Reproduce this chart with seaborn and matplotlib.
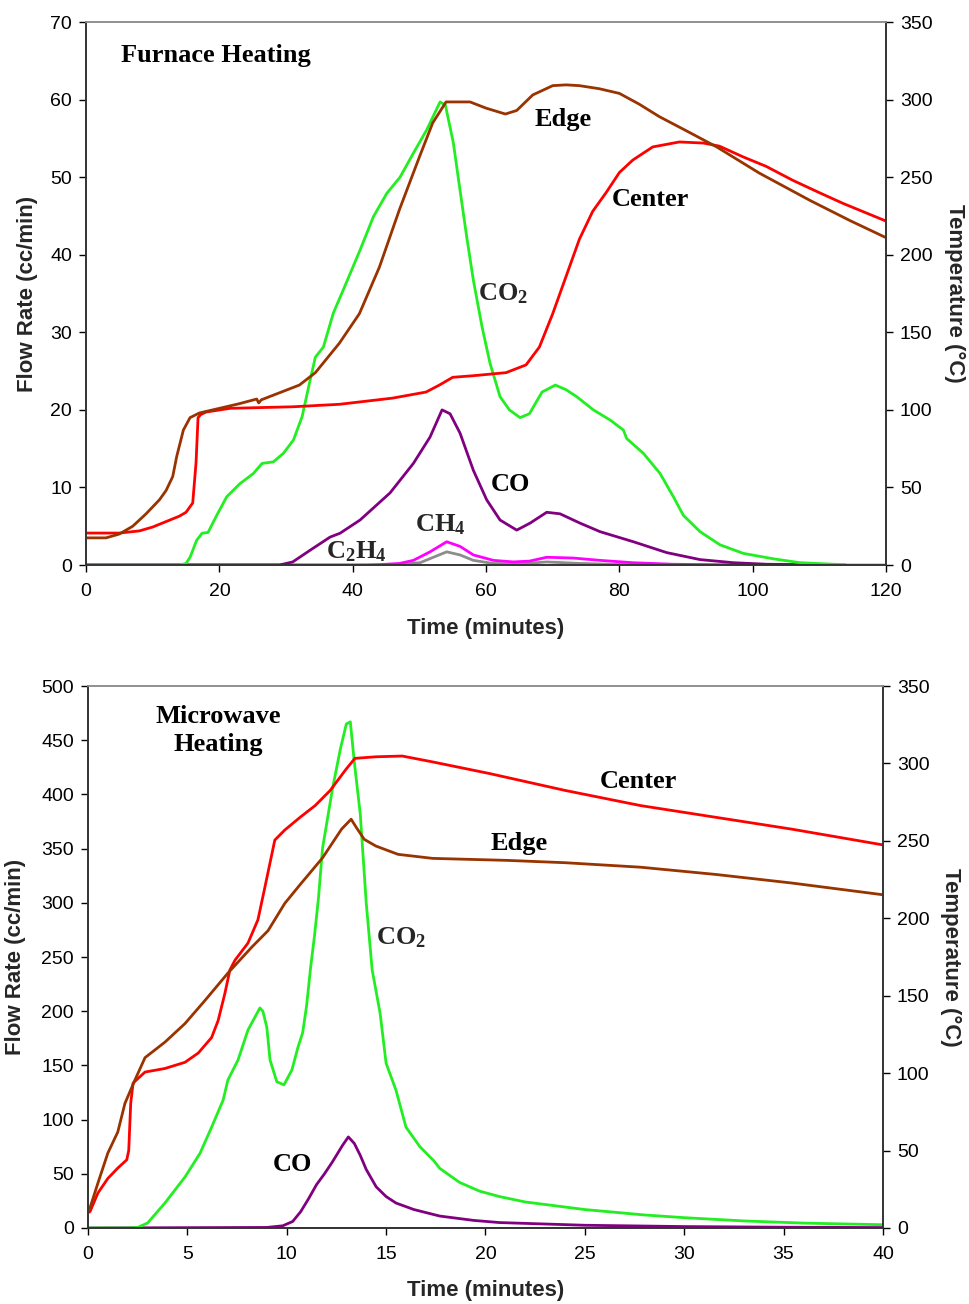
import numpy as np
import pandas as pd
import matplotlib
matplotlib.use("Agg")
import matplotlib.pyplot as plt
import seaborn as sns

# ---------------- Furnace heating (top panel) ----------------
# temperatures in degC (right axis), gas flows in cc/min (left axis)
fur_edge_t = [0, 3, 5, 7, 9, 11, 12, 13, 13.6, 14.6, 15.6, 17, 20, 23, 25.6, 25.9, 26.3, 29, 32, 34.4,
              38, 41, 44, 47, 50, 52, 54, 56, 57.6, 60, 62.9, 64.6, 67, 70, 72, 74, 77, 80, 83, 86,
              90, 94.6, 101, 108.6, 114.6, 120]
fur_edge_temp = [17.5, 17.5, 20, 25, 33, 42, 48, 57, 70, 87, 95, 98, 101, 104, 107, 104.5, 106.5, 111, 116, 124,
                 143, 162, 192, 229, 263, 285, 298.5, 298.5, 298.5, 294.5, 290.7, 293, 303, 309, 309.5, 309, 307, 304, 297, 289,
                 280, 269.5, 252.6, 235, 222, 211]

fur_center_t = [0, 5, 8, 10, 12, 14, 15, 16, 16.5, 16.8, 17.2, 18, 21.6, 31, 38, 46, 51, 53, 55, 58,
                63, 66, 68, 70, 72, 74, 76, 78, 80, 82, 85, 89, 92.6, 95, 98.6, 102, 106, 110, 113.6, 120]
fur_center_temp = [20.6, 20.6, 22, 24.5, 28, 31.5, 34, 40, 66, 95, 97, 98.6, 101, 102, 103.6, 107.6, 111.5, 116, 121, 122,
                   124, 129, 140.5, 162, 186, 210, 228, 240, 253, 261, 269.5, 272.7, 272, 270, 263, 257, 248, 240, 233, 221.7]

fur_co2_t = [0, 14, 15, 15.6, 16.6, 17.4, 18.3, 19.6, 21.1, 23.1, 25.1, 26.4, 28.1, 29.6, 31.1, 32.4, 33.6, 34.4,
             35.6, 37.1, 38.6, 41.1, 43.1, 45.1, 47.1, 49.1, 51.1, 53.1, 53.9, 55.1, 56.1, 57.1, 58.1, 59.4, 60.6,
             62.1, 63.5, 65.1, 66.5, 68.4, 70.4, 72, 73.6, 76.1, 78.6, 80.6, 81.1, 83.6, 86.1, 88.1, 89.6, 92.1,
             95.1, 98.6, 103.1, 107.1, 112.1, 113.9]
fur_co2 = [0, 0, 0.2, 1, 3.2, 4.1, 4.2, 6.4, 8.8, 10.5, 11.8, 13.1, 13.3, 14.4, 16.1, 19.1, 23.8, 26.8,
           28.1, 32.5, 35.5, 40.6, 44.9, 47.9, 50, 53.1, 56.1, 59.7, 59.3, 54.4, 48.3, 42.3, 36.7, 30.7, 26,
           21.7, 20, 19, 19.5, 22.3, 23.2, 22.6, 21.7, 20, 18.7, 17.4, 16.3, 14.4, 11.8, 8.8, 6.4, 4.3,
           2.6, 1.5, 0.8, 0.3, 0.1, 0.05]

fur_co_t = [0, 29, 31, 33.6, 36.6, 38.1, 41.1, 45.6, 49.1, 51.6, 53.4, 54.6, 56.1, 58.1, 60.1, 62.1, 64.6, 66.6,
            69.1, 71.1, 74.1, 77.1, 82.1, 87.1, 92.1, 97.1, 102.1, 110]
fur_co = [0, 0, 0.4, 1.9, 3.6, 4.1, 5.8, 9.3, 13.1, 16.5, 20, 19.5, 17, 12.2, 8.4, 5.8, 4.5, 5.4,
          6.8, 6.6, 5.4, 4.3, 3.0, 1.6, 0.7, 0.3, 0.1, 0.02]

fur_ch4_t = [0, 42, 44, 47, 49.1, 51.6, 54.1, 56.1, 58.1, 61.1, 64.1, 66.5, 69.1, 73.1, 77.1, 82, 88, 95, 113]
fur_ch4 = [0, 0, 0.05, 0.2, 0.6, 1.7, 3.0, 2.4, 1.3, 0.6, 0.4, 0.5, 1.0, 0.9, 0.6, 0.3, 0.1, 0.03, 0]

fur_c2h4_t = [0, 46, 50.1, 52.1, 54.1, 56.1, 58.1, 61.1, 65, 69.1, 74.1, 80, 90, 120]
fur_c2h4 = [0, 0, 0.3, 1.0, 1.7, 1.3, 0.6, 0.2, 0.15, 0.4, 0.2, 0.08, 0, 0]

# ---------------- Microwave heating (bottom panel) ----------------
mw_center_t = [0, 0.1, 0.5, 1.0, 1.5, 1.95, 2.05, 2.15, 2.27, 2.87, 3.87, 4.88, 5.55, 6.22, 6.55, 6.89, 7.14,
               7.4, 8.05, 8.55, 8.9, 9.4, 9.9, 10.67, 11.43, 12.19, 12.95, 13.43, 14.48, 15.81, 17.34, 20.2,
               24.0, 27.8, 31.6, 35.4, 40]
mw_center_temp = [10, 10.5, 22.6, 32, 38.7, 44, 50, 80.5, 93.6, 100.7, 103, 107, 113, 123, 134, 151.6, 166.6,
                  173, 184, 199, 220, 250.5, 257, 265.2, 272.8, 282.6, 295.7, 303.3, 304.3, 304.8, 301, 293.5,
                  282.6, 272.8, 265.2, 257.6, 247.4]

mw_edge_t = [0, 0.1, 0.5, 1.0, 1.5, 1.86, 2.36, 2.87, 3.87, 4.88, 5.89, 7.04, 8.25, 9.06, 9.9, 10.67, 11.8,
             12.76, 13.24, 13.5, 13.9, 14.48, 15.6, 17.34, 21.1, 24.0, 27.8, 31.6, 35.4, 40]
mw_edge_temp = [12, 13, 29, 48.4, 62, 80.5, 95.5, 110, 120, 132, 147, 164.6, 181.5, 192, 209.6, 221.7, 239,
                257.6, 264, 258.7, 251, 246.7, 241.3, 238.7, 237.4, 235.9, 233, 228.3, 222.8, 215.2]

mw_co2_t = [0, 2.0, 2.5, 3.0, 3.87, 4.88, 5.64, 6.22, 6.8, 7.04, 7.55, 8.05, 8.65, 8.8, 9.0, 9.16, 9.5, 9.86,
            10.26, 10.57, 10.8, 11.0, 11.2, 11.4, 11.6, 11.8, 12.3, 12.7, 13.0, 13.2, 13.4, 13.7, 14.0, 14.3,
            14.7, 15.0, 15.5, 16.0, 16.7, 17.4, 17.7, 18.7, 19.7, 20.7, 22, 25, 28, 30, 33, 36, 40]
mw_co2 = [0, 0, 0.5, 4.6, 23, 47, 69, 93, 118, 136.5, 155, 182.6, 203, 200, 185, 155, 135, 132,
          145.8, 167, 180, 205, 240, 270, 305, 350, 405, 442, 465, 467, 430, 382, 300, 238,
          198, 152, 127, 93, 75, 62, 55, 42, 34, 29, 24, 17, 12, 9.5, 6.5, 4.5, 3]

mw_co_t = [0, 9.0, 9.8, 10.3, 10.7, 11.1, 11.5, 11.9, 12.3, 12.8, 13.1, 13.4, 13.7, 14.0, 14.5, 15.0, 15.5,
           16.4, 17.7, 19.4, 20.7, 25, 30, 35, 40]
mw_co = [0, 0.5, 2, 6, 15, 27, 40, 50, 61, 76, 84, 78, 67, 54, 38, 29, 23,
         17, 11, 7, 5, 2.5, 1.3, 0.7, 0.4]

mw_ch4_t = [0, 40]
mw_ch4 = [0, 0]

C_RED = "#ff0000"
C_BROWN = "#993300"
C_GREEN = "#22ee22"
C_PURPLE = "#800080"
C_MAGENTA = "#ff00ff"
C_GREY = "#8c8c8c"

sns.set_style("ticks")
plt.rcParams["font.family"] = ["Liberation Sans", "DejaVu Sans"]
plt.rcParams["mathtext.fontset"] = "custom"
plt.rcParams["mathtext.rm"] = "Liberation Serif:bold"
plt.rcParams["mathtext.bf"] = "Liberation Serif:bold"
plt.rcParams["mathtext.it"] = "Liberation Serif:bold"

LW = 2.0
TICK_FS = 14
LABEL_FS = 16
NOTE_FS = 19
serif = dict(family="Liberation Serif", weight="bold", fontsize=NOTE_FS, color="black")


def draw(ax, t, y, color):
    df = pd.DataFrame({"t": t, "y": y})
    sns.lineplot(data=df, x="t", y="y", ax=ax, color=color, lw=LW, sort=False, estimator=None)


def style_axes(ax, axr, xmax, xstep, ymax, ystep, ylab_x, yrlab_x):
    ax.set_xlim(0, xmax)
    ax.set_ylim(0, ymax)
    axr.set_ylim(0, 350)
    ax.set_xticks(np.arange(0, xmax + 1, xstep))
    ax.set_yticks(np.arange(0, ymax + 1, ystep))
    axr.set_yticks(np.arange(0, 351, 50))
    for a in (ax, axr):
        a.tick_params(direction="out", length=5, width=1, labelsize=TICK_FS, colors="black")
        a.tick_params(axis="y", pad=5)
        a.tick_params(axis="x", pad=8)
        for s in a.spines.values():
            s.set_linewidth(1.2)
            s.set_color("#333333")
        a.spines["top"].set_color("#909090")
        a.spines["top"].set_visible(True)
        a.spines["right"].set_visible(True)
    ax.set_xlabel("Time (minutes)", fontsize=LABEL_FS, fontweight="bold")
    ax.set_ylabel("Flow Rate (cc/min)", fontsize=LABEL_FS, fontweight="bold")
    axr.set_ylabel("Temperature (\u00b0C)", fontsize=LABEL_FS, fontweight="bold", rotation=270)
    ax.xaxis.set_label_coords(0.5, -0.116)
    ax.xaxis.label.set_va("center")
    ax.yaxis.set_label_coords(ylab_x, 0.5)
    ax.yaxis.label.set_va("center")
    axr.yaxis.set_label_coords(yrlab_x, 0.5)
    axr.yaxis.label.set_va("center")


fig = plt.figure(figsize=(9.69, 13.04), dpi=100)

# ---- top: furnace ----
ax1 = fig.add_axes([0.0888, 0.5667, 0.8256, 0.4164])
ax1r = ax1.twinx()
draw(ax1, fur_c2h4_t, fur_c2h4, C_GREY)
draw(ax1, fur_ch4_t, fur_ch4, C_MAGENTA)
draw(ax1, fur_co_t, fur_co, C_PURPLE)
draw(ax1, fur_co2_t, fur_co2, C_GREEN)
draw(ax1r, fur_center_t, fur_center_temp, C_RED)
draw(ax1r, fur_edge_t, fur_edge_temp, C_BROWN)
style_axes(ax1, ax1r, 120, 20, 70, 10, -0.0738, 1.086)

ax1.text(19.5, 65.7, "Furnace Heating", ha="center", va="center", **serif)
ax1.text(71.6, 57.4, "Edge", ha="center", va="center", **serif)
ax1.text(84.7, 47.1, "Center", ha="center", va="center", **serif)
ax1.text(62.6, 35.0, r"$\mathbf{CO_2}$", ha="center", va="center", fontsize=NOTE_FS)
ax1.text(63.7, 10.4, "CO", ha="center", va="center", **serif)
ax1.text(53.1, 5.2, r"$\mathbf{CH_4}$", ha="center", va="center", fontsize=NOTE_FS)
ax1.text(40.5, 1.7, r"$\mathbf{C_2H_4}$", ha="center", va="center", fontsize=NOTE_FS)

# ---- bottom: microwave ----
ax2 = fig.add_axes([0.0908, 0.0583, 0.8204, 0.4156])
ax2r = ax2.twinx()
draw(ax2, mw_ch4_t, mw_ch4, C_MAGENTA)
draw(ax2, mw_co_t, mw_co, C_PURPLE)
draw(ax2, mw_co2_t, mw_co2, C_GREEN)
draw(ax2r, mw_center_t, mw_center_temp, C_RED)
draw(ax2r, mw_edge_t, mw_edge_temp, C_BROWN)
style_axes(ax2, ax2r, 40, 5, 500, 50, -0.0906, 1.0855)

ax2.text(6.55, 459, "Microwave\nHeating", ha="center", va="center", linespacing=1.25, **serif)
ax2.text(27.7, 412, "Center", ha="center", va="center", **serif)
ax2.text(21.7, 355, "Edge", ha="center", va="center", **serif)
ax2.text(15.75, 268, r"$\mathbf{CO_2}$", ha="center", va="center", fontsize=NOTE_FS)
ax2.text(10.3, 59, "CO", ha="center", va="center", **serif)

fig.savefig("out.png", dpi=100)
